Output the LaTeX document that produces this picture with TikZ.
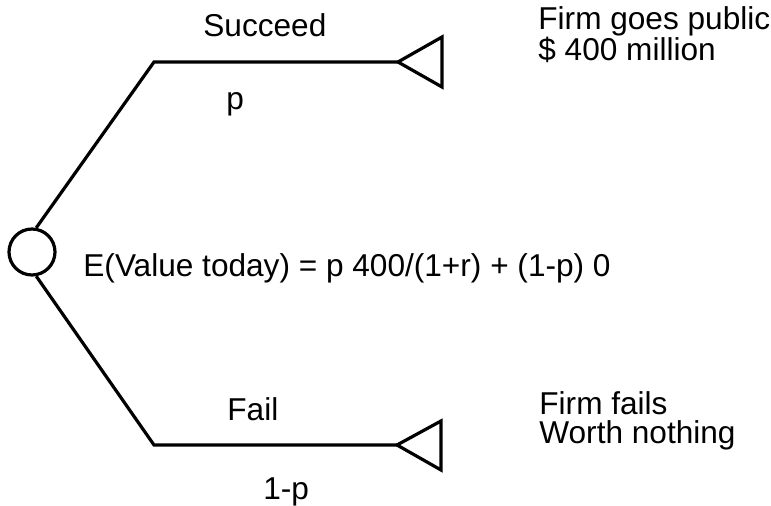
\documentclass[tikz,border=0pt]{standalone}
\usepackage{fontspec}
\setmainfont{Liberation Sans}
\begin{document}
\begin{tikzpicture}[x=0.5pt,y=-0.5pt,
  wire/.style={line width=1.6pt, line join=miter},
  lbl/.style={anchor=base west, inner sep=0pt, font=\fontsize{15.8pt}{14.5pt}\selectfont},
  outc/.style={anchor=base west, inner sep=0pt, align=left, font=\fontsize{15.8pt}{14.5pt}\selectfont}]
\useasboundingbox (0,0) rectangle (771,506);
% chance node
\node[wire, draw, circle, minimum size=46*0.5pt, inner sep=0pt] (c) at (32,252) {};
% corners and triangle tips
\coordinate (k1) at (154,62);
\coordinate (k2) at (154,445);
\coordinate (t1) at (398,62);
\coordinate (t2) at (397,445);
\draw[wire] (c.80) -- (k1) -- (t1);
\draw[wire] (c.-80) -- (k2) -- (t2);
\draw[wire] (t1) -- ++(44,-25) -- ++(0,50) -- cycle;
\draw[wire] (t2) -- ++(44,-24) -- ++(0,49) -- cycle;
% labels
\node[lbl] (succ) at (203,37) {Succeed};
\node[lbl] (p) at (226,110) {p};
\node[lbl] (fail) at (227,421) {Fail};
\node[lbl] (q) at (263,500) {1-p};
\node[lbl] (ev) at (83,277) {E(Value today) = p 400/(1+r) + (1-p) 0};
\node[outc] (o1) at (538,61) {Firm goes public\\\$ 400 million};
\node[outc] (o2) at (539,444) {Firm fails\\Worth nothing};
\end{tikzpicture}
\end{document}
